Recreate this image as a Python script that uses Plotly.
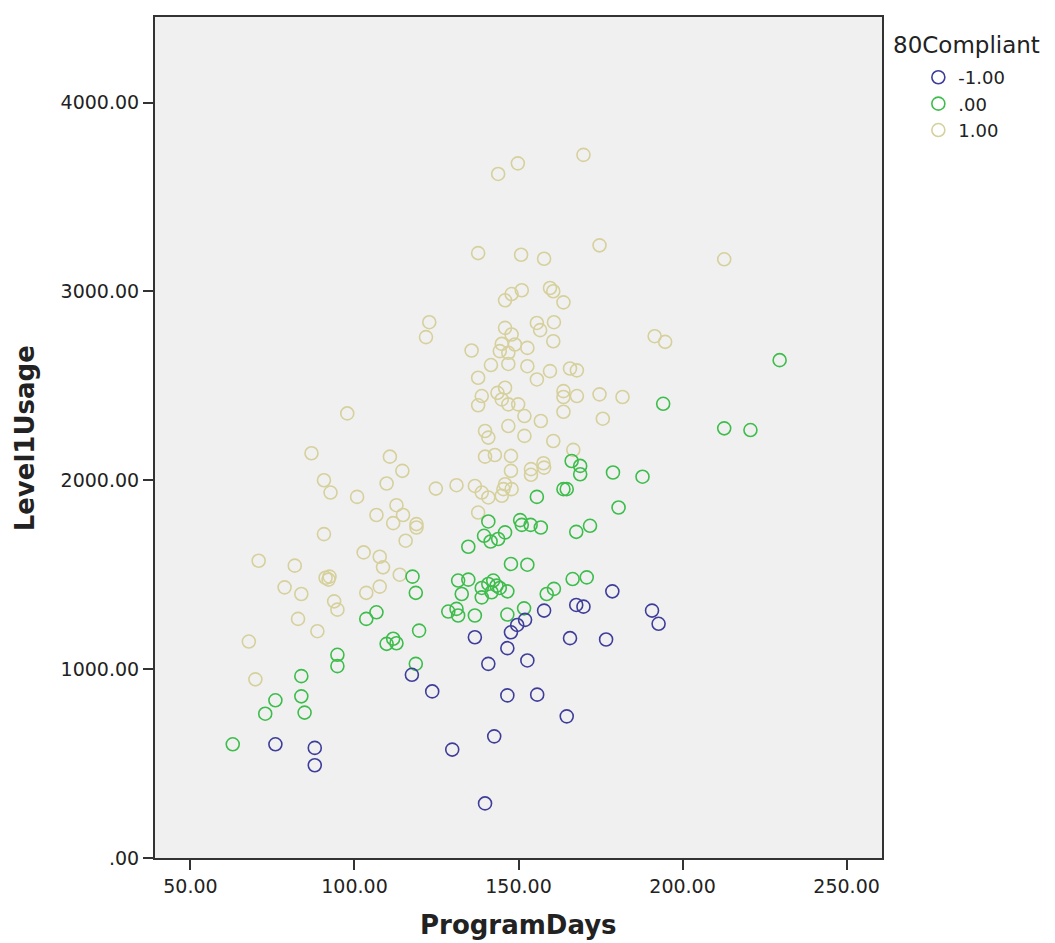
import plotly.graph_objects as go

# ---- data ----
days_neg = [75.9, 87.9, 87.9, 117.5, 123.7, 136.7, 140.8, 146.6, 147.7, 149.6, 152.0, 152.7, 157.8,
            167.6, 169.8, 178.6, 165.7, 176.7, 190.7, 192.7, 146.6, 155.7, 164.7, 142.6, 129.8, 139.8]
usage_neg = [602, 583, 491, 970, 882, 1169, 1028, 1111, 1195, 1234, 1261, 1046, 1310,
             1340, 1331, 1412, 1164, 1157, 1310, 1240, 861, 865, 750, 644, 574, 289]

days_zero = [62.9, 72.8, 75.9, 83.8, 83.8, 84.8, 94.8, 94.8, 103.6, 106.7, 109.8, 111.8, 112.8,
             117.7, 118.7, 119.7, 118.7, 131.6, 134.7, 132.7, 138.8, 140.8, 142.3, 144.3, 138.8,
             141.8, 143.3, 146.6, 158.6, 160.8, 166.5, 170.8, 128.6, 131.1, 131.6, 136.7, 146.6,
             151.7, 134.7, 139.5, 141.5, 143.8, 145.9, 140.8, 150.5, 151.0, 153.7, 156.8, 167.6,
             171.8, 147.7, 152.7, 155.6, 180.5, 166.2, 168.8, 168.8, 178.8, 187.8, 163.7, 164.7,
             194.1, 212.7, 220.7, 229.6]
usage_zero = [602, 764, 835, 963, 856, 770, 1076, 1016, 1266, 1301, 1134, 1161, 1137,
              1490, 1404, 1204, 1028, 1469, 1474, 1398, 1430, 1451, 1469, 1430, 1380,
              1407, 1442, 1412, 1398, 1425, 1477, 1486, 1305, 1319, 1284, 1284, 1289,
              1322, 1648, 1706, 1676, 1689, 1724, 1782, 1789, 1764, 1764, 1750, 1727,
              1759, 1557, 1553, 1912, 1856, 2102, 2076, 2032, 2041, 2019, 1953, 1953,
              2405, 2275, 2266, 2636]

days_pos = [97.8, 86.9, 110.8, 114.6, 109.8, 90.7, 92.7, 100.8, 124.8, 131.1, 112.8, 114.8, 111.8,
            106.7, 118.9, 118.9, 115.6, 90.7, 70.8, 81.8, 102.8, 107.7, 108.7, 113.8, 91.2, 92.1,
            92.4, 78.7, 83.8, 103.6, 107.7, 93.8, 94.8, 82.8, 67.8, 69.8, 88.7, 137.7, 140.8,
            144.9, 137.7, 155.6, 138.8, 137.7, 143.6, 145.9, 144.9, 146.9, 149.9, 151.8, 156.8,
            163.7, 163.7, 167.8, 163.7, 174.7, 181.7, 175.7, 146.9, 139.8, 140.8, 151.8, 160.6,
            166.7, 139.8, 142.8, 147.7, 147.7, 153.8, 153.8, 157.6, 157.8, 136.7, 138.8, 145.9,
            145.4, 147.9, 143.8, 149.8, 169.8, 137.7, 150.8, 157.8, 174.7, 145.9, 147.9, 151.0,
            159.6, 160.6, 163.7, 122.8, 121.8, 145.9, 147.9, 148.9, 144.9, 144.3, 146.9, 146.9,
            155.6, 156.6, 160.8, 160.6, 152.7, 135.7, 141.6, 152.7, 159.6, 165.7, 167.8, 191.5,
            194.7, 212.7]
usage_pos = [2354, 2143, 2125, 2050, 1983, 2000, 1935, 1912, 1956, 1974, 1868, 1816, 1773,
             1816, 1768, 1750, 1680, 1715, 1574, 1548, 1618, 1595, 1539, 1500, 1484, 1474,
             1490, 1433, 1398, 1404, 1437, 1359, 1315, 1266, 1146, 946, 1201, 1829, 1909,
             1918, 2543, 2534, 2446, 2397, 2463, 2490, 2428, 2402, 2402, 2340, 2314,
             2472, 2441, 2446, 2363, 2455, 2441, 2326, 2287, 2261, 2226, 2235, 2208,
             2161, 2125, 2134, 2129, 2050, 2059, 2029, 2090, 2067, 1970, 1935, 1979,
             1953, 1953, 3622, 3678, 3723, 3203, 3194, 3173, 3244, 2953, 2986, 3006,
             3018, 3001, 2942, 2837, 2758, 2807, 2772, 2719, 2722, 2684, 2675, 2616,
             2833, 2795, 2837, 2736, 2701, 2687, 2610, 2604, 2578, 2592, 2582, 2763,
             2733, 3170]

x_ticks = [50, 100, 150, 200, 250]
x_tick_text = ["50.00", "100.00", "150.00", "200.00", "250.00"]
y_ticks = [0, 1000, 2000, 3000, 4000]
y_tick_text = [".00", "1000.00", "2000.00", "3000.00", "4000.00"]

group_names = ["-1.00", ".00", "1.00"]
colors = ["#3E3D9A", "#3DBD4B", "#D6D09C"]

FONT = "DejaVu Sans"

fig = go.Figure()
series = [(days_pos, usage_pos, 2), (days_zero, usage_zero, 1), (days_neg, usage_neg, 0)]
for xs, ys, gi in series:
    fig.add_trace(go.Scatter(
        x=xs, y=ys, mode="markers", name=group_names[gi], legendrank=gi + 1,
        marker=dict(symbol="circle-open", size=13, color=colors[gi],
                    line=dict(width=1.6, color=colors[gi])),
    ))

axis_common = dict(showgrid=False, zeroline=False, showline=True, linecolor="#333333",
                   linewidth=2, mirror=True, ticks="outside", ticklen=10, tickwidth=1.5,
                   tickcolor="#333333", tickfont=dict(family=FONT, size=19, color="#222222"))

fig.update_xaxes(range=[39.2, 260.8], tickvals=x_ticks, ticktext=x_tick_text, **axis_common)
fig.update_yaxes(range=[0, 4453], tickvals=y_ticks, ticktext=y_tick_text, **axis_common)

fig.add_annotation(text="<b>ProgramDays</b>", xref="paper", yref="paper", x=0.5, y=-0.0996,
                   xanchor="center", yanchor="bottom", showarrow=False,
                   font=dict(family=FONT, size=26, color="#222222"))
fig.add_annotation(text="<b>Level1Usage</b>", xref="paper", yref="paper", x=-0.1788, y=0.499,
                   xanchor="center", yanchor="middle", textangle=-90, showarrow=False,
                   font=dict(family=FONT, size=26, color="#222222"))
fig.add_annotation(text="80Compliant", xref="paper", yref="paper", x=1.013, y=0.967,
                   xanchor="left", yanchor="middle", showarrow=False,
                   font=dict(family=FONT, size=23, color="#222222"))

fig.update_layout(
    width=1047, height=935,
    margin=dict(l=147, r=173, t=7, b=85),
    paper_bgcolor="white", plot_bgcolor="#F0F0F0",
    showlegend=True,
    legend=dict(x=1.05, y=0.95, xanchor="left", yanchor="top",
                font=dict(family=FONT, size=18, color="#222222"),
                bgcolor="rgba(0,0,0,0)", tracegroupgap=0, itemwidth=30),
)

fig.write_html("out.html")
